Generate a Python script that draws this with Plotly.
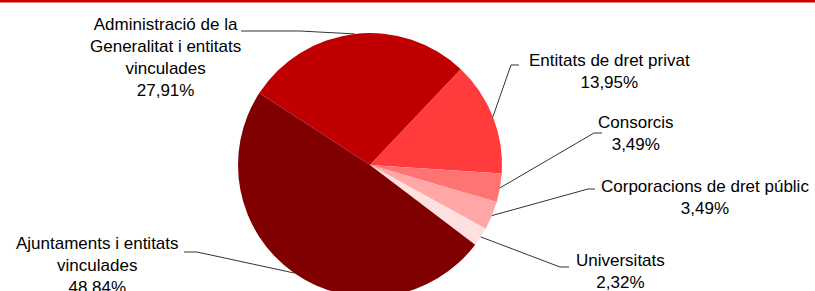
import math
import plotly.graph_objects as go

# ---- data ----
categories = [
    "Administració de la Generalitat i entitats vinculades",
    "Entitats de dret privat",
    "Consorcis",
    "Corporacions de dret públic",
    "Universitats",
    "Ajuntaments i entitats vinculades",
]
values = [27.91, 13.95, 3.49, 3.49, 2.32, 48.84]
label_texts = [
    "Administració de la<br>Generalitat i entitats<br>vinculades<br>27,91%",
    "Entitats de dret privat<br>13,95%",
    "Consorcis<br>3,49%",
    "Corporacions de dret públic<br>3,49%",
    "Universitats<br>2,32%",
    "Ajuntaments i entitats<br>vinculades<br>48,84%",
]
colors = ["#C00000", "#FF3B3B", "#FF7373", "#FFA6A6", "#FFE0E0", "#800000"]

# ---- layout geometry (pixels) ----
W, H = 815, 330
CX, CY, R = 370, 165, 132
ROTATION = -57

# label text centres and leader elbows (pixels)
label_pos = [(165, 57), (609, 72), (636, 133), (705, 197), (620, 271), (97, 265)]
leader_pts = [
    [(300, 31), (241, 31)],
    [(511, 65), (519, 65)],
    [(594, 133), (602, 133)],
    [(588, 189), (595, 189)],
    [(560, 267), (569, 267)],
    [(197, 252), (184, 252)],
]


def px(x, y):
    return x / W, 1 - y / H


fig = go.Figure(
    go.Pie(
        labels=categories,
        values=values,
        marker=dict(colors=colors, line=dict(width=0)),
        sort=False,
        direction="clockwise",
        rotation=ROTATION,
        textinfo="none",
        hoverinfo="label+percent",
        domain=dict(x=[(CX - R) / W, (CX + R) / W], y=[1 - (CY + R) / H, 1 - (CY - R) / H]),
        showlegend=False,
    )
)

shapes = []
annotations = []
total = sum(values)
cum = 0.0
for i, v in enumerate(values):
    mid = math.radians(ROTATION + (cum + v / 2) / total * 360)
    cum += v
    ex, ey = CX + R * math.sin(mid), CY - R * math.cos(mid)
    pts = [(ex, ey)] + leader_pts[i]
    for (x0, y0), (x1, y1) in zip(pts[:-1], pts[1:]):
        a0, b0 = px(x0, y0)
        a1, b1 = px(x1, y1)
        shapes.append(dict(type="line", xref="paper", yref="paper", x0=a0, y0=b0, x1=a1, y1=b1,
                           line=dict(color="#333333", width=1)))
    lx, ly = px(*label_pos[i])
    annotations.append(dict(text=label_texts[i], x=lx, y=ly, xref="paper", yref="paper",
                            xanchor="center", yanchor="middle", showarrow=False, align="center",
                            font=dict(family="Arial, Liberation Sans", size=17, color="black")))

# top red rule
shapes.append(dict(type="rect", xref="paper", yref="paper", x0=0, x1=1, y0=1 - 2.5 / H, y1=1,
                   fillcolor="#CC0000", line=dict(width=0)))

fig.update_layout(
    width=W, height=H,
    margin=dict(l=0, r=0, t=0, b=0),
    paper_bgcolor="white", plot_bgcolor="white",
    shapes=shapes, annotations=annotations,
)

fig.write_html(
    "out.html",
    config={"displayModeBar": False},
    post_script="document.body.style.margin='0';document.body.style.overflow='hidden';document.documentElement.style.overflow='hidden';",
)
